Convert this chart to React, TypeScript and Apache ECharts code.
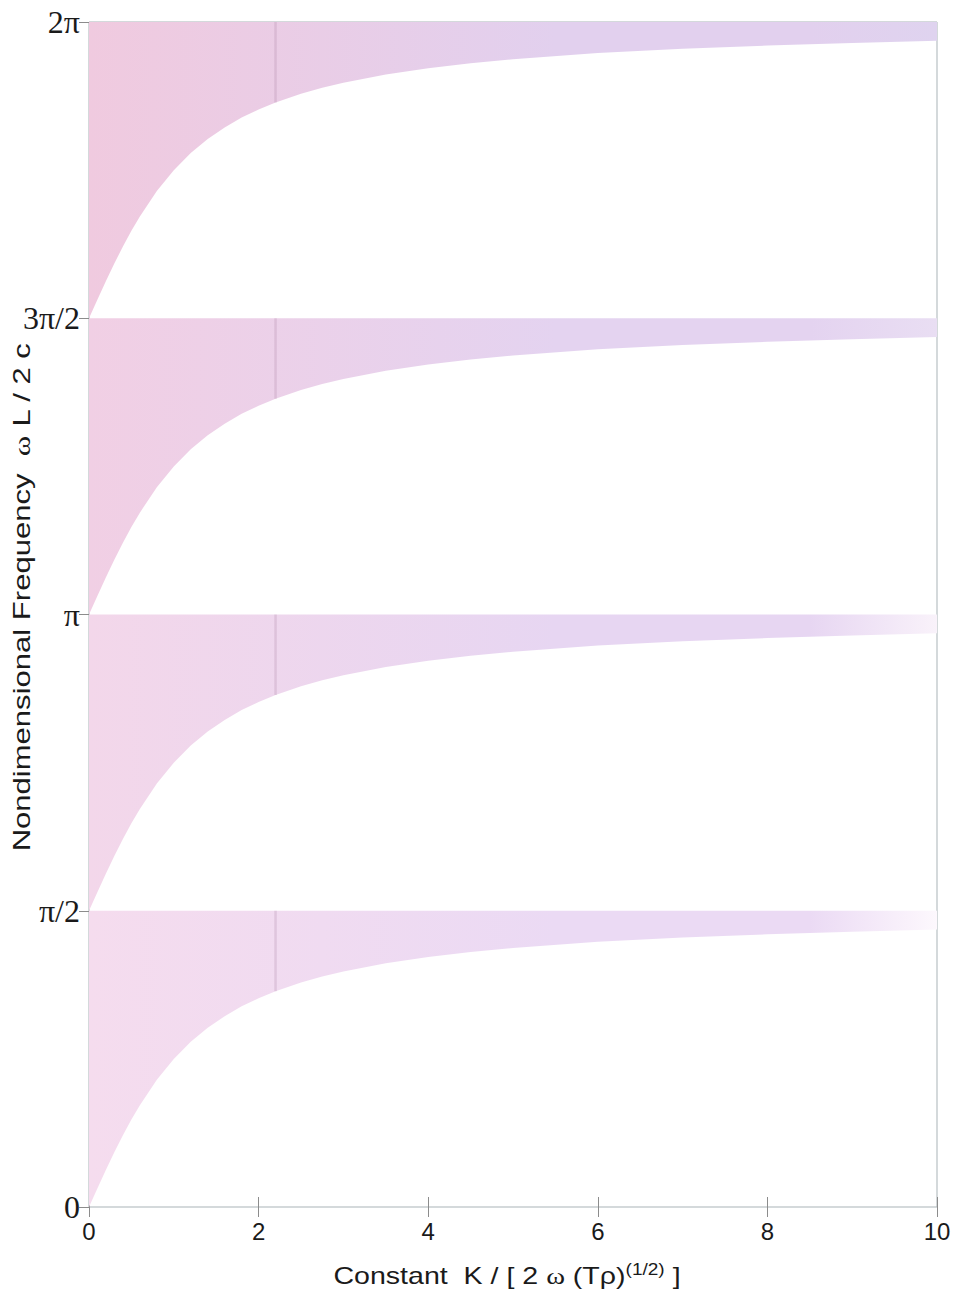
import React, { useEffect, useRef } from "react";
import * as echarts from "echarts";

// Constant K / [2 ω (Tρ)^(1/2)]
const kValues = [0, 0.1, 0.2, 0.3, 0.4, 0.5, 0.6, 0.8, 1, 1.2, 1.4, 1.6, 1.8, 2, 2.2, 2.5, 2.75, 3, 3.5, 4, 4.5, 5, 6, 7, 8, 9, 10];
// Lower edge of each frequency band, measured up from the band's base (radians)
const lowerEdge = [0, 0.1, 0.197, 0.291, 0.381, 0.464, 0.54, 0.675, 0.785, 0.876, 0.951, 1.012, 1.064, 1.107, 1.144, 1.19, 1.222, 1.249, 1.292, 1.326, 1.352, 1.373, 1.406, 1.429, 1.446, 1.46, 1.471];
// Band bases: 0, π/2, π, 3π/2
const bandBases = [0, Math.PI / 2, Math.PI, (3 * Math.PI) / 2];
const bandWidth = Math.PI / 2;
// Faint vertical seam running through every band
const seamK = 2.2;
const yTickLabels = ["0", "π/2", "π", "3π/2", "2π"];
const xTickLabels = ["0", "2", "4", "6", "8", "10"];

// Fill colours per band, bottom to top: [left, middle, right]
const bandColors = [
  ["#f5dcee", "#ebdaf4", "#fdf8fd"],
  ["#f3d7ea", "#e7d6f2", "#f9f2fa"],
  ["#f1cfe4", "#e4d3f0", "#e9def3"],
  ["#f0cadf", "#e2d0ee", "#dfd3ef"],
];

export default function App() {
  const ref = useRef<HTMLDivElement>(null);

  useEffect(() => {
    if (!ref.current) return;
    const chart = echarts.init(ref.current, undefined, { renderer: "svg" });

    const renderBand = (params: any, api: any) => {
      const b = params.dataIndex;
      const base = bandBases[b];
      const top = base + bandWidth;
      const pts: number[][] = [];
      for (let i = kValues.length - 1; i >= 0; i--) pts.push(api.coord([kValues[i], top]));
      for (let i = 0; i < kValues.length; i++) pts.push(api.coord([kValues[i], base + lowerEdge[i]]));
      const [c0, c1, c2] = bandColors[b];
      const si = kValues.indexOf(seamK);
      const s0 = api.coord([seamK, base + lowerEdge[si]]);
      const s1 = api.coord([seamK, top]);
      return {
        type: "group",
        children: [
          {
            type: "polygon",
            shape: { points: pts },
            style: {
              fill: new echarts.graphic.LinearGradient(0, 0, 1, 0, [
                { offset: 0, color: c0 },
                { offset: 0.55, color: c1 },
                { offset: 0.85, color: c1 },
                { offset: 1, color: c2 },
              ]),
              stroke: "none",
            },
          },
          {
            type: "line",
            shape: { x1: s0[0], y1: s0[1], x2: s1[0], y2: s1[1] },
            style: { stroke: "rgba(170,130,165,0.25)", lineWidth: 2.5 },
          },
        ],
      };
    };

    const tickIn = { show: true, inside: true, length: 10, lineStyle: { color: "#8c8c8c", width: 1 } };
    const tickOut = { show: true, inside: false, length: 8, lineStyle: { color: "#8c8c8c", width: 1 } };

    chart.setOption({
      animation: false,
      backgroundColor: "#ffffff",
      grid: {
        left: 89,
        right: 20,
        top: 22,
        bottom: 90,
        show: true,
        borderColor: "#a9b3b7",
        borderWidth: 1,
        backgroundColor: "transparent",
      },
      xAxis: [
        {
          type: "value",
          min: 0,
          max: 10,
          interval: 2,
          position: "bottom",
          axisLine: { show: false },
          axisTick: tickIn,
          splitLine: { show: false },
          axisLabel: {
            margin: 12,
            fontFamily: "Liberation Sans, Arial, sans-serif",
            fontSize: 24,
            color: "#1a1a1a",
            formatter: (v: number) => xTickLabels[Math.round(v / 2)] ?? "",
          },
        },
        {
          type: "value",
          min: 0,
          max: 10,
          interval: 2,
          position: "top",
          axisLine: { show: false },
          axisTick: tickIn,
          axisLabel: { show: false },
          splitLine: { show: false },
        },
      ],
      yAxis: [
        {
          type: "value",
          min: 0,
          max: 2 * Math.PI,
          interval: Math.PI / 2,
          position: "left",
          axisLine: { show: false },
          axisTick: tickOut,
          splitLine: { show: false },
          axisLabel: {
            margin: 9,
            fontFamily: "Liberation Serif, Times New Roman, serif",
            fontSize: 32,
            color: "#1a1a1a",
            formatter: (v: number) => yTickLabels[Math.round(v / (Math.PI / 2))] ?? "",
          },
        },
        {
          type: "value",
          min: 0,
          max: 2 * Math.PI,
          interval: Math.PI / 2,
          position: "right",
          axisLine: { show: false },
          axisTick: tickIn,
          axisLabel: { show: false },
          splitLine: { show: false },
        },
      ],
      graphic: [
        {
          type: "text",
          x: 507,
          y: 1276,
          scaleX: 1.19,
          style: {
            text: "{a|Constant  K / [ 2 }{w|ω}{a| (Tρ)}{s|(1/2)}{a| ]}",
            textAlign: "center",
            textVerticalAlign: "middle",
            rich: {
              a: { fontFamily: "Liberation Sans, Arial, sans-serif", fontSize: 24, fill: "#1a1a1a" },
              w: { fontFamily: "Liberation Serif, serif", fontSize: 24, fill: "#1a1a1a" },
              s: {
                fontFamily: "Liberation Sans, Arial, sans-serif",
                fontSize: 16,
                fill: "#1a1a1a",
                verticalAlign: "top",
                padding: [0, 0, 12, 0],
              },
            },
          },
        },
        {
          type: "text",
          x: 22,
          y: 597,
          rotation: Math.PI / 2,
          scaleX: 1.35,
          style: {
            text: "{a|Nondimensional Frequency  }{w|ω}{a| L / 2 c}",
            textAlign: "center",
            textVerticalAlign: "middle",
            rich: {
              a: { fontFamily: "Liberation Sans, Arial, sans-serif", fontSize: 23, fill: "#1a1a1a" },
              w: { fontFamily: "Liberation Serif, serif", fontSize: 23, fill: "#1a1a1a" },
            },
          },
        },
      ],
      series: [
        {
          type: "custom",
          renderItem: renderBand,
          clip: true,
          data: bandBases.map((_, i) => [i]),
          encode: { x: 0 },
          z: 2,
        },
      ],
    });

    return () => chart.dispose();
  }, []);

  return <div ref={ref} style={{ position: "fixed", left: 0, top: 0, width: 957, height: 1297 }} />;
}
